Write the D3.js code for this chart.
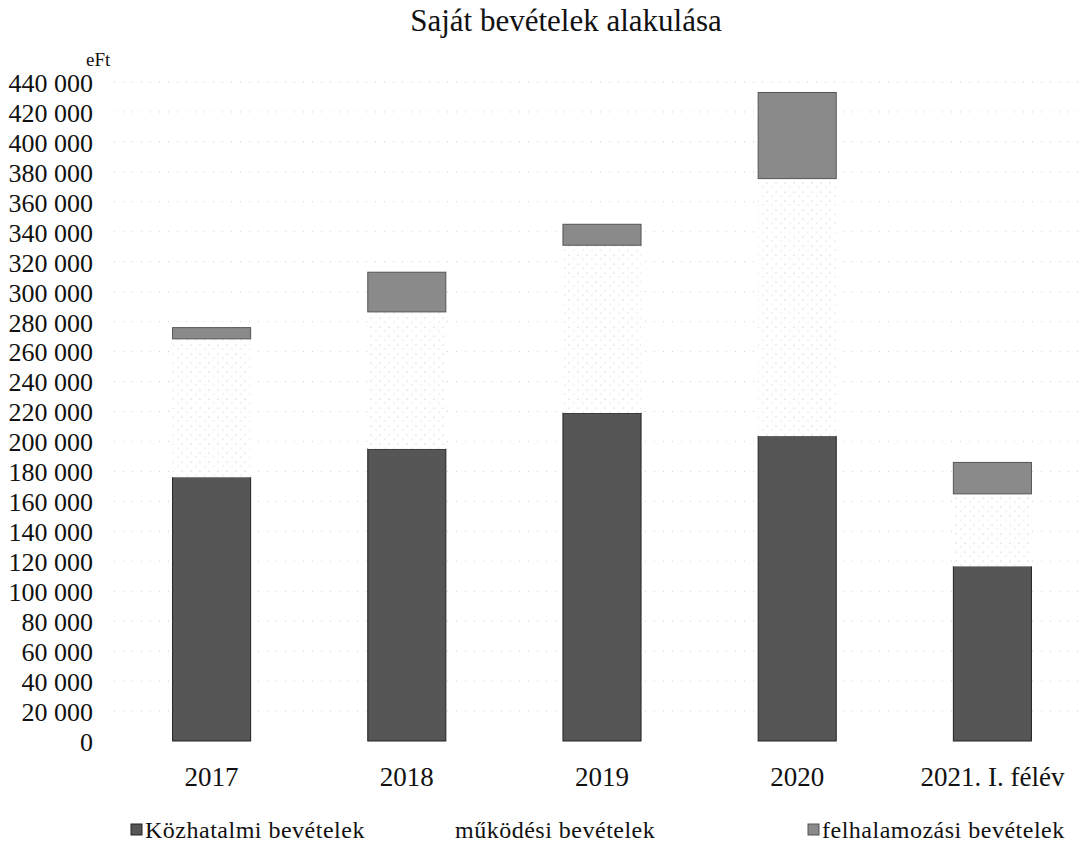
<!DOCTYPE html>
<html>
<head>
<meta charset="utf-8">
<script src="https://cdn.jsdelivr.net/npm/d3@7"></script>
<style>
  body { margin: 0; background: #fff; }
  svg text { font-family: 'Liberation Serif', 'DejaVu Serif', serif; fill: #111; }
</style>
</head>
<body>
<div id="app"></div>
<script>
'use strict'

const categories = ['2017', '2018', '2019', '2020', '2021. I. félév']
const seriesNames = ['Közhatalmi bevételek', 'működési bevételek', 'felhalamozási bevételek']
const kozhatalmi = [176000, 195000, 219000, 203500, 116500]
const mukodesi   = [92500, 91500, 112000, 172000, 48500]
const felhalm    = [7500, 26500, 14000, 57500, 21000]
const yTicks = d3.range(0, 440001, 20000)

const serif = 'Liberation Serif, DejaVu Serif, serif'
const W = 1082, H = 846
const plot = { left: 114, right: 1090, top: 82, bottom: 741 }

const svg = d3.select('#app').append('svg')
  .attr('width', W).attr('height', H)
  .attr('font-family', serif)

// sparse dots for the (almost white) működési series
const defs = svg.append('defs')
const dots = defs.append('pattern')
  .attr('id', 'dots').attr('patternUnits', 'userSpaceOnUse')
  .attr('width', 9).attr('height', 9)
dots.append('rect').attr('width', 9).attr('height', 9).attr('fill', '#fff')
dots.append('circle').attr('cx', 2).attr('cy', 3).attr('r', 0.6).attr('fill', '#bbb')
dots.append('circle').attr('cx', 7).attr('cy', 7).attr('r', 0.6).attr('fill', '#ccc')

const x = d3.scaleBand()
  .domain(categories)
  .range([plot.left, plot.right])
  .paddingInner(0.6).paddingOuter(0.3)

const y = d3.scaleLinear()
  .domain([0, 440000])
  .range([plot.bottom, plot.top])

// faint dotted gridlines
svg.append('g')
  .selectAll('line')
  .data(yTicks.filter(d => d > 0))
  .enter().append('line')
  .attr('x1', plot.left).attr('x2', plot.right)
  .attr('y1', d => y(d)).attr('y2', d => y(d))
  .attr('stroke', '#cfcfcf')
  .attr('stroke-width', 1)
  .attr('stroke-dasharray', '1,8')

// y axis labels
const fmt = d => d3.format(',')(d).replace(/,/g, ' ')
const yAxis = svg.append('g')
  .attr('transform', 'translate(93,0)')
  .call(d3.axisLeft(y).tickValues(yTicks).tickFormat(fmt).tickSize(0).tickPadding(0))
yAxis.attr('font-family', serif).attr('font-size', 26)
yAxis.select('.domain').remove()
yAxis.selectAll('text').attr('fill', '#111').attr('dy', '0.36em')

svg.append('text')
  .attr('x', 86).attr('y', 66)
  .attr('font-size', 19)
  .text('eFt')

// stacked bars
const rows = categories.map((c, i) => ({
  cat: c, k: kozhatalmi[i], m: mukodesi[i], f: felhalm[i]
}))
const stack = d3.stack().keys(['k', 'm', 'f'])(rows)
const fills = ['#565656', 'url(#dots)', '#8a8a8a']
const strokes = ['#222', 'none', '#555']

svg.append('g')
  .selectAll('g')
  .data(stack)
  .enter().append('g')
  .attr('fill', (d, i) => fills[i])
  .attr('stroke', (d, i) => strokes[i])
  .attr('stroke-width', 1)
  .selectAll('rect')
  .data(d => d)
  .enter().append('rect')
  .attr('x', d => x(d.data.cat))
  .attr('width', x.bandwidth())
  .attr('y', d => y(d[1]))
  .attr('height', d => y(d[0]) - y(d[1]))

// x axis labels
const xAxis = svg.append('g')
  .attr('transform', `translate(0,${plot.bottom + 26})`)
  .call(d3.axisBottom(x).tickSize(0).tickPadding(0))
xAxis.attr('font-family', serif).attr('font-size', 27)
xAxis.select('.domain').remove()
xAxis.selectAll('text').attr('fill', '#111').attr('dy', '0.7em')

// title
svg.append('text')
  .attr('x', 566).attr('y', 31)
  .attr('text-anchor', 'middle')
  .attr('font-size', 31)
  .text('Saját bevételek alakulása')

// legend
const legendX = [131, 455, 808]
const legend = svg.append('g')
  .attr('font-size', 24)
  .selectAll('g')
  .data(seriesNames)
  .enter().append('g')
  .attr('transform', (d, i) => `translate(${legendX[i]},838)`)
legend.append('rect')
  .attr('x', 0).attr('y', -14)
  .attr('width', 11).attr('height', 11)
  .attr('fill', (d, i) => i === 1 ? 'none' : fills[i])
  .attr('stroke', (d, i) => i === 1 ? 'none' : strokes[i])
legend.append('text')
  .attr('x', (d, i) => i === 1 ? 0 : 14)
  .attr('y', 0)
  .attr('letter-spacing', 0.5)
  .text(d => d)
</script>
</body>
</html>
